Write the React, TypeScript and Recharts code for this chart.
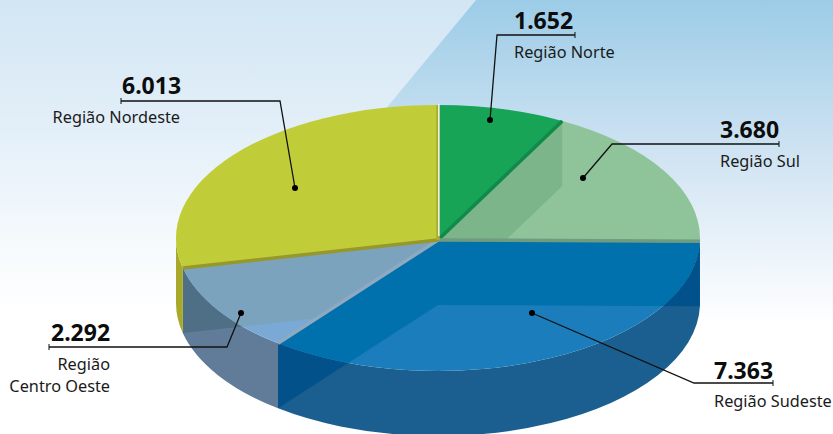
import React from 'react';
import { PieChart, Pie } from 'recharts';

const regions = ['Região Norte', 'Região Sul', 'Região Sudeste', 'Região Centro Oeste', 'Região Nordeste'];
const values = [1652, 3680, 7363, 2292, 6013];

const topColors = ['#17a457', '#8fc49a', '#1b7dbb', '#7aa9d6', '#c1cd38'];
const wallColors = ['#12884a', '#74a884', '#1a5f90', '#607c99', '#a8a82a'];
const glassTopColors = ['#17a457', '#7db58a', '#0071ad', '#7ba3be', '#c1cd38'];
const glassWallColors = ['#12884a', '#74a884', '#02518a', '#4f6f86', '#a8a82a'];
const edgeColors = ['#118a49', '#6f9b7f', '#8ea9c0', '#97982c', '#a9ac30'];

const WIDTH = 833;
const HEIGHT = 434;
const CX = 438;
const CY = 238;
const RX = 262;
const RY = 133;
const DEPTH = 65;
const HUB_DY = 2; // the slices meet a little under the ellipse centre

const table = regions.map((name, i) => ({
  name,
  value: values[i],
  top: topColors[i],
  wall: wallColors[i],
  glassTop: glassTopColors[i],
  glassWall: glassWallColors[i],
  edge: edgeColors[i],
}));

// squash a pie angle onto the tilted ellipse
const pt = (cx: number, cy: number, r: number, a: number, dy = 0) => {
  const rad = (a * Math.PI) / 180;
  return { x: cx + r * Math.cos(rad), y: cy - r * (RY / RX) * Math.sin(rad) + dy };
};

const arc = (r: number, from: number, to: number, cx: number, cy: number, dy: number, sweep: number) => {
  const p = pt(cx, cy, r, to, dy);
  const large = Math.abs(to - from) > 180 ? 1 : 0;
  return `A ${r} ${r * (RY / RX)} 0 ${large} ${sweep} ${p.x} ${p.y}`;
};

const topPath = (cx: number, cy: number, r: number, a0: number, a1: number) => {
  const s = pt(cx, cy, r, a0);
  return `M ${cx} ${cy + HUB_DY} L ${s.x} ${s.y} ${arc(r, a0, a1, cx, cy, 0, 1)} Z`;
};

const wallPath = (cx: number, cy: number, r: number, a0: number, a1: number) => {
  const from = Math.min(a0, 0);
  const to = Math.max(a1, -180);
  if (from <= to) return null;
  const s = pt(cx, cy, r, from);
  const e = pt(cx, cy, r, to, DEPTH);
  return `M ${s.x} ${s.y} ${arc(r, from, to, cx, cy, 0, 1)} L ${e.x} ${e.y} ${arc(r, to, from, cx, cy, DEPTH, 0)} Z`;
};

const cutPath = (cx: number, cy: number, r: number, a: number) => {
  const p = pt(cx, cy, r, a);
  return `M ${cx} ${cy + HUB_DY} L ${p.x} ${p.y} L ${p.x} ${p.y + DEPTH} L ${cx} ${cy + HUB_DY + DEPTH} Z`;
};

const BaseSlice = (props: any) => {
  const { cx, cy, outerRadius, startAngle, endAngle, top, wall, glassTop, glassWall, index, name } = props;
  const a0 = Math.max(startAngle, endAngle);
  const a1 = Math.min(startAngle, endAngle);
  const face = topPath(cx, cy, outerRadius, a0, a1);
  const side = wallPath(cx, cy, outerRadius, a0, a1);
  const id = `clip-${String(name ?? index).replace(/[^a-zA-Z]/g, '')}`;
  const cuts = `${cutPath(cx, cy, outerRadius, a0)} ${cutPath(cx, cy, outerRadius, a1)}`;
  return (
    <g>
      <clipPath id={`${id}-face`}>
        <path d={face} />
      </clipPath>
      {side && (
        <clipPath id={`${id}-side`}>
          <path d={side} />
        </clipPath>
      )}
      {side && <path d={side} fill={wall} />}
      <path d={face} fill={top} />
      {/* the cut walls show through the glassy slices */}
      {side && <path d={cuts} fill={glassWall} clipPath={`url(#${id}-side)`} />}
      <path d={cuts} fill={glassTop} clipPath={`url(#${id}-face)`} />
    </g>
  );
};

const EdgeSlice = (props: any) => {
  const { cx, cy, outerRadius, startAngle, endAngle, edge } = props;
  const a1 = Math.min(startAngle, endAngle);
  const p = pt(cx, cy, outerRadius, a1);
  return <line x1={cx} y1={cy + HUB_DY} x2={p.x} y2={p.y} stroke={edge} strokeWidth={3.5} />;
};

const LABEL_FONT = '"Noto Sans", sans-serif';

const Callout = ({ i, dot, elbow, end, valueX, nameX, valueY, nameY, anchor, lines }: any) => (
  <g>
    <polyline points={`${dot} ${elbow} ${end}`.replace(/;/g, ',')} fill="none" stroke="#111" strokeWidth={1.3} />
    <circle cx={Number(dot.split(';')[0])} cy={Number(dot.split(';')[1])} r={3} fill="#000" />
    <line
      x1={Number(end.split(';')[0])}
      x2={Number(end.split(';')[0])}
      y1={Number(end.split(';')[1]) - 3}
      y2={Number(end.split(';')[1]) + 3}
      stroke="#111"
      strokeWidth={1}
    />
    <text x={valueX} y={valueY} fontFamily={LABEL_FONT} fontWeight={700} fontSize={23} fill="#0c0c0c">
      {values[i].toLocaleString('pt-BR')}
    </text>
    {lines.map((t: string, k: number) => (
      <text key={t} x={nameX} y={nameY + k * 22} textAnchor={anchor} fontFamily={LABEL_FONT} fontSize={16.3} fill="#1a1a1a">
        {t}
      </text>
    ))}
  </g>
);

export default function App() {
  return (
    <div style={{ position: 'absolute', left: 0, top: 0, width: WIDTH, height: HEIGHT, overflow: 'hidden' }}>
      <svg width={WIDTH} height={HEIGHT} style={{ position: 'absolute', left: 0, top: 0 }}>
        <defs>
          <linearGradient id="bgRight" x1="0" y1="0" x2="0" y2="1">
            <stop offset="0" stopColor="#9ccce7" />
            <stop offset="0.35" stopColor="#cfe3f2" />
            <stop offset="0.6" stopColor="#eef5fb" />
            <stop offset="0.75" stopColor="#ffffff" />
          </linearGradient>
          <linearGradient id="bgLeft" x1="0" y1="0" x2="0" y2="1">
            <stop offset="0" stopColor="#d2e6f4" />
            <stop offset="0.3" stopColor="#e3eff8" />
            <stop offset="0.6" stopColor="#f8fbfd" />
            <stop offset="0.72" stopColor="#ffffff" />
          </linearGradient>
        </defs>
        <rect width={WIDTH} height={HEIGHT} fill="url(#bgRight)" />
        <polygon points={`0,0 476,0 116,${HEIGHT} 0,${HEIGHT}`} fill="url(#bgLeft)" />
      </svg>
      <div style={{ position: 'absolute', left: 0, top: 0 }}>
        <PieChart width={WIDTH} height={HEIGHT} margin={{ top: 0, right: 0, bottom: 0, left: 0 }}>
          <Pie
            data={table}
            dataKey="value"
            nameKey="name"
            cx={CX}
            cy={CY}
            outerRadius={RX}
            startAngle={90}
            endAngle={-270}
            stroke="none"
            isAnimationActive={false}
            shape={BaseSlice}
          />
          <Pie
            data={table}
            dataKey="value"
            nameKey="name"
            cx={CX}
            cy={CY}
            outerRadius={RX}
            startAngle={90}
            endAngle={-270}
            stroke="none"
            isAnimationActive={false}
            shape={EdgeSlice}
          />
        </PieChart>
      </div>
      <svg width={WIDTH} height={HEIGHT} style={{ position: 'absolute', left: 0, top: 0 }}>
        <line x1={438.8} y1={104} x2={438.8} y2={236} stroke="#eef4ec" strokeWidth={1.5} />
        <Callout i={0} dot="490;120" elbow="497;35" end="575;35" valueX={514} valueY={29} nameX={514} nameY={58} anchor="start" lines={['Região Norte']} />
        <Callout i={1} dot="583;178" elbow="612;144" end="779;144" valueX={720} valueY={138} nameX={720} nameY={167} anchor="start" lines={['Região Sul']} />
        <Callout i={2} dot="532;313" elbow="694;383" end="773;383" valueX={714} valueY={379} nameX={714} nameY={407} anchor="start" lines={['Região Sudeste']} />
        <Callout i={3} dot="241;313" elbow="227;347" end="49;347" valueX={51} valueY={341} nameX={110} nameY={370} anchor="end" lines={['Região', 'Centro Oeste']} />
        <Callout i={4} dot="295;188" elbow="280;101" end="121;101" valueX={122} valueY={94} nameX={180} nameY={123} anchor="end" lines={['Região Nordeste']} />
      </svg>
    </div>
  );
}
